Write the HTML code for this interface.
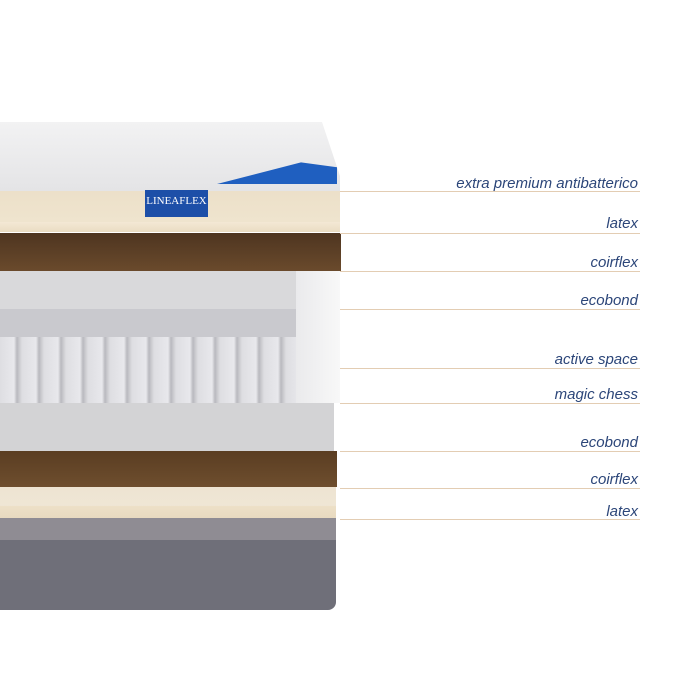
<!DOCTYPE html>
<html><head><style>
body{margin:0;width:700px;height:700px;background:#fff;position:relative;overflow:hidden;font-family:"Liberation Sans",sans-serif}
div{position:absolute}
.l{left:340px;width:300px;height:1px;background:#e3cdb3}
.t{right:62px;font-style:italic;color:#2c4679;font-size:15px;line-height:16px;white-space:nowrap}
</style></head><body>
<!-- top quilted -->
<div style="left:0;top:122px;width:340px;height:69px;background:linear-gradient(#f2f2f3,#e4e4e6);clip-path:polygon(0 0,322px 0,345px 69px,0 69px)"></div>
<div style="left:217px;top:160px;width:120px;height:24px;background:#1f5fc0;clip-path:polygon(0 100%,70% 10%,100% 30%,100% 100%)"></div>
<!-- latex -->
<div style="left:0;top:191px;width:340px;height:41px;background:linear-gradient(#ece0c9 0,#efe4ce 75%,#f3e8d5 76%,#eadcc2 100%)"></div>
<!-- coir -->
<div style="left:0;top:233px;width:341px;height:38px;background:linear-gradient(#4e3520,#6a4a2c)"></div>
<!-- ecobond -->
<div style="left:0;top:271px;width:296px;height:38px;background:#d9d9db"></div>
<div style="left:296px;top:271px;width:44px;height:132px;background:linear-gradient(90deg,#eaeaec,#f8f8f8)"></div>
<!-- springs -->
<div style="left:0;top:309px;width:296px;height:94px;background:repeating-linear-gradient(90deg,#dedee2 0,#e8e8ec 14px,#b9b9be 17px,#dedee2 22px);"></div>
<div style="left:0;top:309px;width:296px;height:28px;background:#c9c9ce"></div>
<!-- ecobond 2 -->
<div style="left:0;top:403px;width:334px;height:48px;background:#d3d3d5"></div>
<!-- coir -->
<div style="left:0;top:451px;width:337px;height:36px;background:linear-gradient(#5a3d22,#6e4e2e)"></div>
<!-- latex -->
<div style="left:0;top:487px;width:336px;height:31px;background:linear-gradient(#eee4d2 0,#efe6d5 60%,#ede0c7 62%,#e8dac0 100%)"></div>
<!-- base -->
<div style="left:0;top:518px;width:336px;height:22px;background:#8f8c93"></div>
<div style="left:0;top:540px;width:336px;height:70px;background:#6f6f79;border-bottom-right-radius:8px"></div>
<!-- badge -->
<div style="left:145px;top:190px;width:63px;height:27px;background:#1d4fa8;color:#fff;font-family:'Liberation Serif',serif;font-size:11px;text-align:center;line-height:22px;z-index:5">LINEAFLEX</div>
<!-- lines -->
<div class="l" style="top:191px"></div><div class="l" style="top:233px"></div><div class="l" style="top:271px"></div><div class="l" style="top:309px"></div><div class="l" style="top:368px"></div><div class="l" style="top:403px"></div><div class="l" style="top:451px"></div><div class="l" style="top:488px"></div><div class="l" style="top:519px"></div>
<div class="t" style="top:176px">extra premium antibatterico</div>
<div class="t" style="top:216px">latex</div>
<div class="t" style="top:255px">coirflex</div>
<div class="t" style="top:293px">ecobond</div>
<div class="t" style="top:352px">active space</div>
<div class="t" style="top:387px">magic chess</div>
<div class="t" style="top:435px">ecobond</div>
<div class="t" style="top:472px">coirflex</div>
<div class="t" style="top:504px">latex</div>
</body></html>
